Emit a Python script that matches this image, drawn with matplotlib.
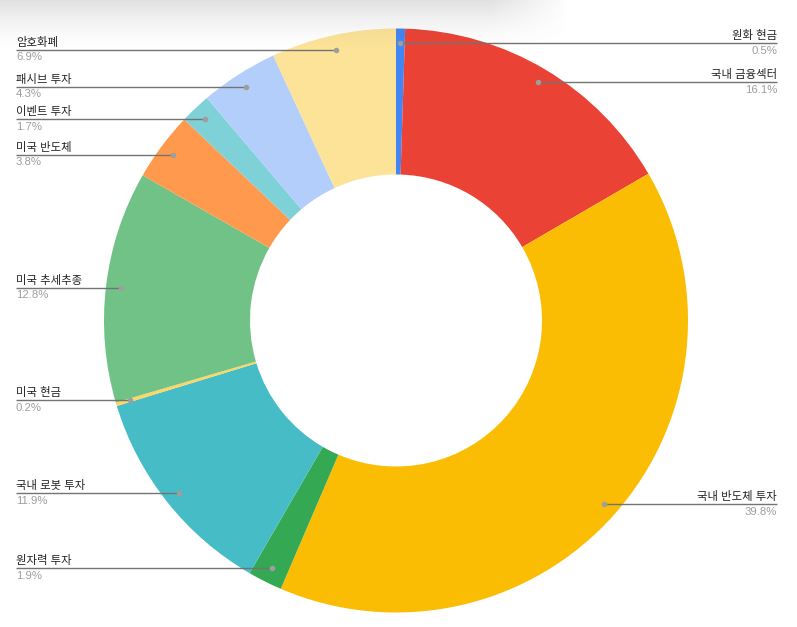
import numpy as np
import matplotlib
matplotlib.use("Agg")
import matplotlib.pyplot as plt

plt.rcParams['font.family'] = ['Liberation Sans', 'Noto Sans CJK KR', 'DejaVu Sans']

# data (clockwise from 12 o'clock)
labels = ["원화 현금", "국내 금융섹터", "국내 반도체 투자", "원자력 투자", "국내 로봇 투자",
          "미국 현금", "미국 추세추종", "미국 반도체", "이벤트 투자", "패시브 투자", "암호화폐"]
shares = [0.5, 16.1, 39.8, 1.9, 11.9, 0.2, 12.8, 3.8, 1.7, 4.3, 6.9]
colors = ["#4285f4", "#ea4335", "#fbbc04", "#34a853", "#46bdc6", "#fdd663",
          "#71c287", "#ff994d", "#7ed1d7", "#b3cefb", "#fce397"]

W, H = 797, 627
fig = plt.figure(figsize=(W / 100, H / 100), dpi=100)
ax = fig.add_axes([0, 0, 1, 1])

cx, cy = 396, H - 320.5
R = 292

ax.pie(shares, colors=colors, startangle=90, counterclock=False,
       radius=R, center=(cx, cy),
       wedgeprops=dict(width=R * 0.5, linewidth=0))

# leader lines + labels
total = sum(shares)
cum = 0.0
for lab, v in zip(labels, shares):
    mid = (cum + v / 2) / total
    cum += v
    ang = np.deg2rad(90 - 360 * mid)
    dx = cx + 0.95 * R * np.cos(ang)
    dy = cy + 0.95 * R * np.sin(ang)
    pct = f"{v:.1f}%"
    if dx < cx:
        x0, ha = 16, 'left'
    else:
        x0, ha = 777, 'right'
    ax.plot([x0, dx], [dy, dy], color="#737373", lw=1, zorder=3,
            solid_capstyle='butt')
    ax.plot(dx, dy, 'o', color="#9e9e9e", ms=4, mew=0, zorder=4)
    ax.text(x0, dy + 2, lab, ha=ha, va='bottom', fontsize=8.2, color="#222222")
    ax.text(x0, dy - 2.5, pct, ha=ha, va='top', fontsize=8.2, color="#9e9e9e")

# soft grey shadow along the top edge (screenshot artefact)
ys = np.arange(60)
xs = np.arange(W)
fy = np.clip(1 - ys / 50.0, 0, 1) ** 1.5
fx = np.clip((570 - xs) / 80.0, 0, 1)
alpha = 0.18 * fy[:, None] * fx[None, :]
img = np.zeros((60, W, 4))
img[..., :3] = 0.35
img[..., 3] = alpha
ax.imshow(img, extent=(0, W, H - 60, H), origin='upper', zorder=10,
          interpolation='bilinear')

ax.set_xlim(0, W)
ax.set_ylim(0, H)
ax.set_aspect('auto')
ax.axis('off')

fig.savefig("out.png", dpi=100)
